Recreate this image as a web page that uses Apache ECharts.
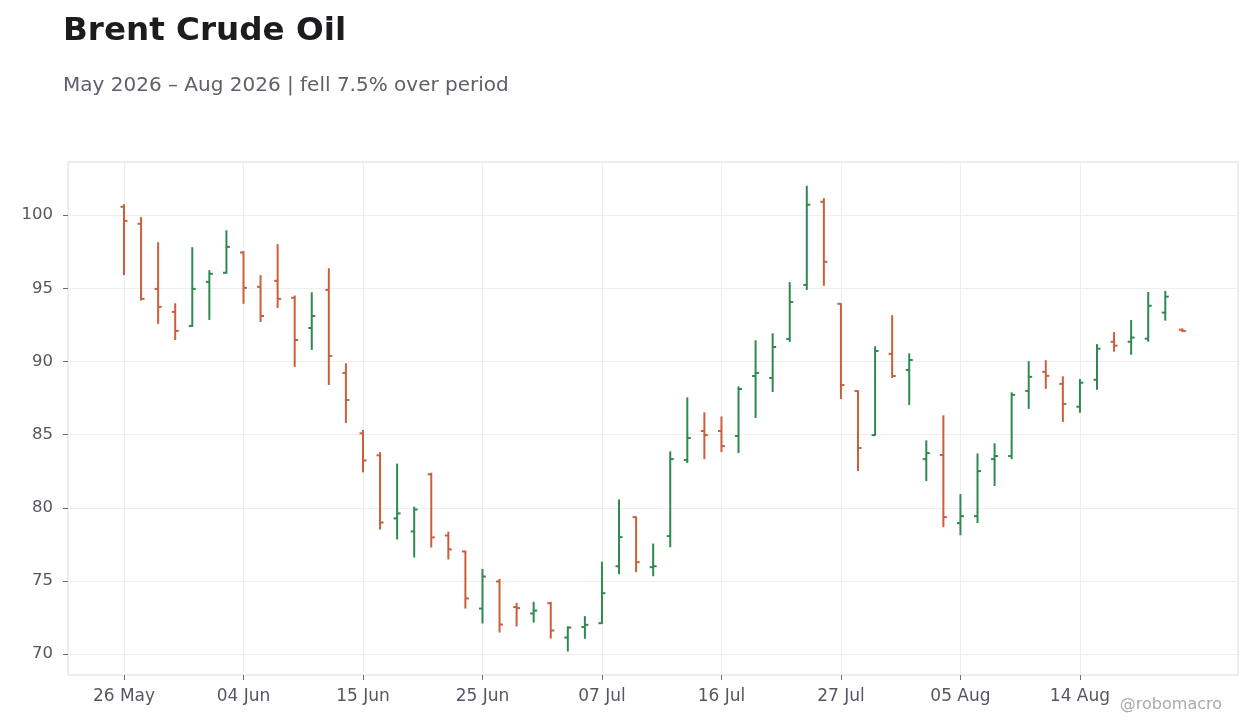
<!DOCTYPE html>
<html>
<head>
<meta charset="utf-8">
<script src="https://cdn.jsdelivr.net/npm/echarts@6/dist/echarts.min.js"></script>
<style>
  html, body { margin: 0; padding: 0; background: #fff; }
  #chart { width: 1260px; height: 728px; }
</style>
</head>
<body>
<div id="chart"></div>
<script>
/* Brent Crude Oil - daily OHLC bars, May-Aug 2026 */

// trading days (US holidays 19 Jun and 3 Jul skipped)
const dates = [
  '26 May', '27 May', '28 May', '29 May', '01 Jun', '02 Jun', '03 Jun', '04 Jun', '05 Jun',
  '08 Jun', '09 Jun', '10 Jun', '11 Jun', '12 Jun', '15 Jun', '16 Jun', '17 Jun', '18 Jun',
  '22 Jun', '23 Jun', '24 Jun', '25 Jun', '26 Jun', '29 Jun', '30 Jun', '01 Jul', '02 Jul',
  '06 Jul', '07 Jul', '08 Jul', '09 Jul', '10 Jul', '13 Jul', '14 Jul', '15 Jul', '16 Jul',
  '17 Jul', '20 Jul', '21 Jul', '22 Jul', '23 Jul', '24 Jul', '27 Jul', '28 Jul', '29 Jul',
  '30 Jul', '31 Jul', '03 Aug', '04 Aug', '05 Aug', '06 Aug', '07 Aug', '10 Aug', '11 Aug',
  '12 Aug', '13 Aug', '14 Aug', '17 Aug', '18 Aug', '19 Aug', '20 Aug', '21 Aug', '24 Aug'
];

const opens = [
  100.57, 99.41, 94.96, 93.39, 92.43, 95.44, 96.06, 97.45, 95.10, 95.51, 94.35, 92.29, 94.89, 89.22,
  85.09, 83.59, 79.28, 78.39, 82.29, 78.11, 77.02, 73.12, 74.97, 73.22, 72.78, 73.49, 71.14, 71.86,
  72.12, 76.01, 79.37, 75.95, 78.07, 83.27, 85.25, 85.25, 84.91, 89.01, 88.87, 91.54, 95.23, 100.91,
  93.94, 87.98, 84.97, 90.52, 89.42, 83.33, 83.61, 78.96, 79.43, 83.33, 83.54, 87.99, 89.29, 88.47,
  86.91, 88.75, 91.35, 91.35, 91.56, 93.34, 92.17
];
const closes = [
  99.61, 94.28, 93.73, 92.09, 94.96, 95.99, 97.83, 95.03, 93.11, 94.28, 91.47, 93.11, 90.38, 87.37,
  83.24, 79.00, 79.62, 79.89, 77.98, 77.16, 73.81, 75.31, 72.03, 73.15, 72.98, 71.62, 71.82, 72.01,
  74.17, 78.00, 76.29, 76.01, 83.33, 84.77, 84.97, 84.22, 88.12, 89.22, 90.99, 94.07, 100.71, 96.81,
  88.39, 84.09, 90.72, 89.01, 90.10, 83.74, 79.37, 79.43, 82.51, 83.54, 87.72, 88.95, 89.02, 87.10,
  88.55, 90.87, 91.08, 91.63, 93.81, 94.43, 92.08
];
const lows = [
  95.90, 94.16, 92.57, 91.47, 92.36, 92.84, 96.01, 93.94, 92.70, 93.66, 89.63, 90.79, 88.39, 85.80,
  82.42, 78.52, 77.84, 76.61, 77.29, 76.47, 73.12, 72.10, 71.48, 71.89, 72.16, 71.07, 70.18, 71.05,
  72.07, 75.47, 75.60, 75.33, 77.31, 83.06, 83.33, 83.81, 83.74, 86.14, 87.92, 91.34, 94.89, 95.17,
  87.44, 82.51, 84.93, 88.87, 87.03, 81.83, 78.68, 78.13, 78.96, 81.49, 83.33, 86.76, 88.13, 85.87,
  86.50, 88.07, 90.67, 90.46, 91.35, 92.79, 92.01
];
const highs = [
  100.75, 99.86, 98.15, 93.98, 97.81, 96.24, 98.97, 97.54, 95.90, 98.02, 94.51, 94.73, 96.37, 89.88,
  85.32, 83.81, 83.02, 80.08, 82.40, 78.37, 77.07, 75.83, 75.15, 73.51, 73.58, 73.58, 71.91, 72.60,
  76.33, 80.57, 79.41, 77.56, 83.86, 87.55, 86.53, 86.25, 88.30, 91.45, 91.93, 95.42, 102.01, 101.16,
  93.98, 88.03, 91.04, 93.16, 90.56, 84.61, 86.32, 80.94, 83.72, 84.41, 87.89, 90.02, 90.09, 88.99,
  88.80, 91.19, 92.01, 92.83, 94.75, 94.82, 92.26
];

const xTicks = [0, 7, 14, 21, 28, 35, 42, 49, 56];
const yTicks = [70, 75, 80, 85, 90, 95, 100];

const UP = '#2f8a52';
const DOWN = '#c95f3d';
const FONT = 'DejaVu Sans';

const chart = echarts.init(document.getElementById('chart'), null, { renderer: 'canvas' });

const bars = dates.map((d, i) => [i, opens[i], closes[i], lows[i], highs[i]]);

function renderOhlc(params, api) {
  const i = api.value(0);
  const o = api.coord([i, api.value(1)]);
  const c = api.coord([i, api.value(2)]);
  const lo = api.coord([i, api.value(3)]);
  const hi = api.coord([i, api.value(4)]);
  const tick = 3.5;
  const style = {
    stroke: api.value(2) >= api.value(1) ? UP : DOWN,
    lineWidth: 2
  };
  return {
    type: 'group',
    children: [
      { type: 'line', shape: { x1: hi[0], y1: hi[1], x2: lo[0], y2: lo[1] }, style },
      { type: 'line', shape: { x1: o[0] - tick, y1: o[1], x2: o[0], y2: o[1] }, style },
      { type: 'line', shape: { x1: c[0], y1: c[1], x2: c[0] + tick, y2: c[1] }, style }
    ]
  };
}

const option = {
  backgroundColor: '#fff',
  textStyle: { fontFamily: FONT },
  title: [
    {
      text: 'Brent Crude Oil',
      left: 58, top: 10,
      textStyle: { fontFamily: FONT, fontSize: 32.6, fontWeight: 'bold', color: '#1b1b20' }
    },
    {
      text: 'May 2026 – Aug 2026 | fell 7.5% over period',
      left: 58, top: 71,
      textStyle: { fontFamily: FONT, fontSize: 20, fontWeight: 'normal', color: '#5f6069' }
    }
  ],
  graphic: [{
    type: 'text',
    right: 38, top: 697,
    style: { text: '@robomacro', fontFamily: FONT, fontSize: 16, fill: '#aaaaaa' }
  }],
  grid: {
    left: 68, right: 22, top: 162, bottom: 53,
    show: true, borderColor: '#dcdce0', borderWidth: 1
  },
  xAxis: {
    type: 'value',
    min: -3.28, max: 65.26,
    axisLine: { show: false, onZero: false },
    axisTick: { show: true, length: 5, customValues: xTicks, lineStyle: { color: '#6b6e76' } },
    axisLabel: {
      customValues: xTicks,
      margin: 13,
      fontFamily: FONT, fontSize: 17, color: '#555861',
      formatter: v => dates[Math.round(v)] || ''
    },
    splitLine: { show: true, lineStyle: { color: '#eeeeee', width: 1 } }
  },
  yAxis: {
    type: 'value',
    min: 68.58, max: 103.63,
    axisLine: { show: false, onZero: false },
    axisTick: { show: true, length: 5, customValues: yTicks, lineStyle: { color: '#6b6e76' } },
    axisLabel: {
      customValues: yTicks,
      margin: 15,
      fontFamily: FONT, fontSize: 16.5, color: '#555861'
    },
    splitLine: { show: true, lineStyle: { color: '#eeeeee', width: 1 } }
  },
  series: [{
    type: 'custom',
    name: 'Brent',
    renderItem: renderOhlc,
    encode: { x: 0, y: [1, 2, 3, 4] },
    data: bars,
    clip: true
  }]
};

chart.setOption(option);
window.addEventListener('resize', () => chart.resize());
</script>
</body>
</html>
